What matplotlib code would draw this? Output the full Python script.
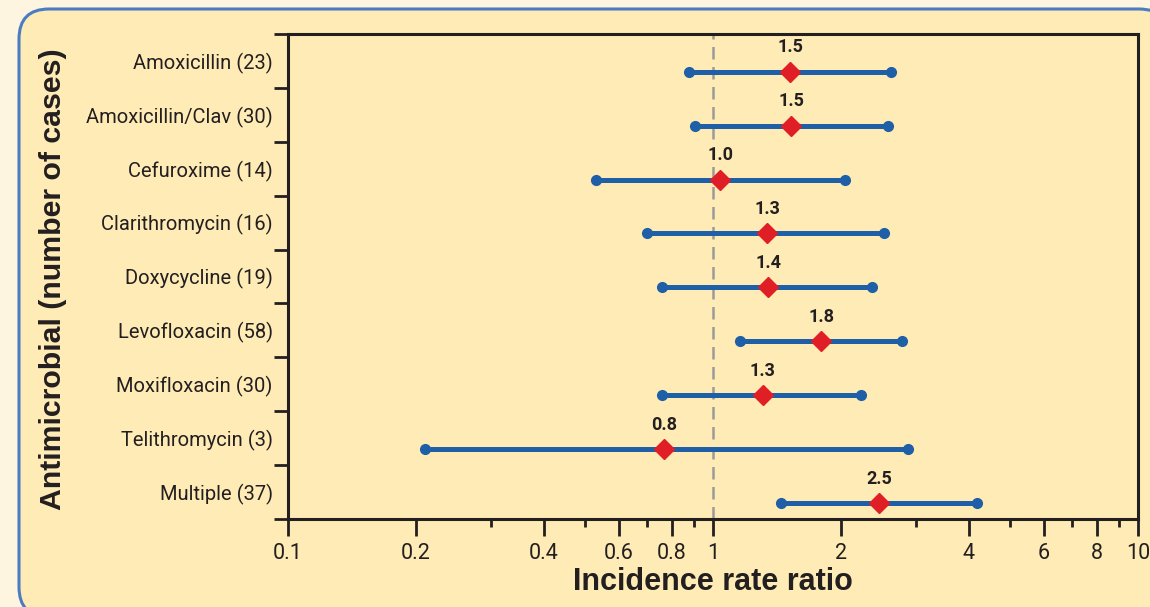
import matplotlib.pyplot as plt
from matplotlib.patches import FancyBboxPatch
from matplotlib.ticker import FixedLocator, NullFormatter

drugs = ["Amoxicillin (23)", "Amoxicillin/Clav (30)", "Cefuroxime (14)",
         "Clarithromycin (16)", "Doxycycline (19)", "Levofloxacin (58)",
         "Moxifloxacin (30)", "Telithromycin (3)", "Multiple (37)"]
irr = [1.52, 1.53, 1.04, 1.34, 1.35, 1.80, 1.31, 0.767, 2.46]
irr_text = ["1.5", "1.5", "1.0", "1.3", "1.4", "1.8", "1.3", "0.8", "2.5"]
ci_low = [0.878, 0.907, 0.531, 0.70, 0.758, 1.16, 0.758, 0.21, 1.445]
ci_high = [2.62, 2.58, 2.05, 2.53, 2.37, 2.78, 2.23, 2.88, 4.18]
x_major = [0.1, 0.2, 0.4, 0.6, 0.8, 1, 2, 4, 6, 8, 10]
x_major_labels = ["0.1", "0.2", "0.4", "0.6", "0.8", "1", "2", "4", "6", "8", "10"]
x_minor = [0.3, 0.5, 0.7, 0.9, 3, 5, 7, 9]

narrow = ["Roboto", "DejaVu Sans"]
bold = ["Liberation Sans", "DejaVu Sans"]
dark = "#231f20"
line_blue = "#1f5fa8"
red = "#e01e25"

fig = plt.figure(figsize=(11.5, 6.07), dpi=100, facecolor="#fdf5e0")
box = FancyBboxPatch((19, -10), 1150, 608, boxstyle="round,pad=0,rounding_size=30",
                     transform=None, facecolor="#feebb5", edgecolor="#4a7cc4",
                     linewidth=2.2, zorder=-5)
fig.patches.append(box)

ax = fig.add_axes([288 / 1150, 88 / 607, 850 / 1150, 485 / 607], zorder=1)
ax.set_facecolor("none")
ax.set_xscale("log")
ax.set_xlim(0.1, 10)
ax.set_ylim(8.5, -0.5)

rows = list(range(len(drugs)))
offset = 0.2
for i in rows:
    y = i + offset
    ax.plot([ci_low[i], ci_high[i]], [y, y], color=line_blue, lw=3.6,
            marker="o", markersize=7, solid_capstyle="butt", zorder=2)
    ax.plot(irr[i], y, marker="D", markersize=10.5, color=red, zorder=3)
    ax.text(irr[i], y - 0.45, irr_text[i], ha="center", va="center",
            fontsize=13, fontweight="bold", family=narrow, color=dark)

ax.axvline(1, color="#9a9a9a", lw=1.8, ls=(0, (5, 3)), zorder=1)

# x axis
ax.xaxis.set_major_locator(FixedLocator(x_major))
ax.set_xticklabels(x_major_labels, family=narrow, fontsize=15.5, color=dark)
ax.xaxis.set_minor_locator(FixedLocator(x_minor))
ax.xaxis.set_minor_formatter(NullFormatter())
ax.tick_params(axis="x", which="major", length=12, width=2, color=dark, pad=5)
ax.tick_params(axis="x", which="minor", length=6, width=2, color=dark)

# y axis: labels at band centres, tick marks at band edges
ax.set_yticks(rows)
ax.set_yticklabels(drugs, family=narrow, fontsize=14.5, color=dark)
ax.set_yticks([r - 0.5 for r in rows] + [8.5], minor=True)
ax.tick_params(axis="y", which="major", length=0, pad=11)
ax.tick_params(axis="y", which="minor", length=10, width=2, color=dark)

for s in ax.spines.values():
    s.set_linewidth(2.2)
    s.set_color(dark)

ax.set_xlabel("Incidence rate ratio", fontsize=22, fontweight="bold",
              family=bold, color=dark)
ax.xaxis.set_label_coords(0.5, -0.098)
ax.set_ylabel("Antimicrobial (number of cases)", fontsize=21.8, fontweight="bold",
              family=bold, color=dark)
ax.yaxis.set_label_coords(-0.26, 0.495)

fig.savefig("out.png", dpi=100, facecolor=fig.get_facecolor())
